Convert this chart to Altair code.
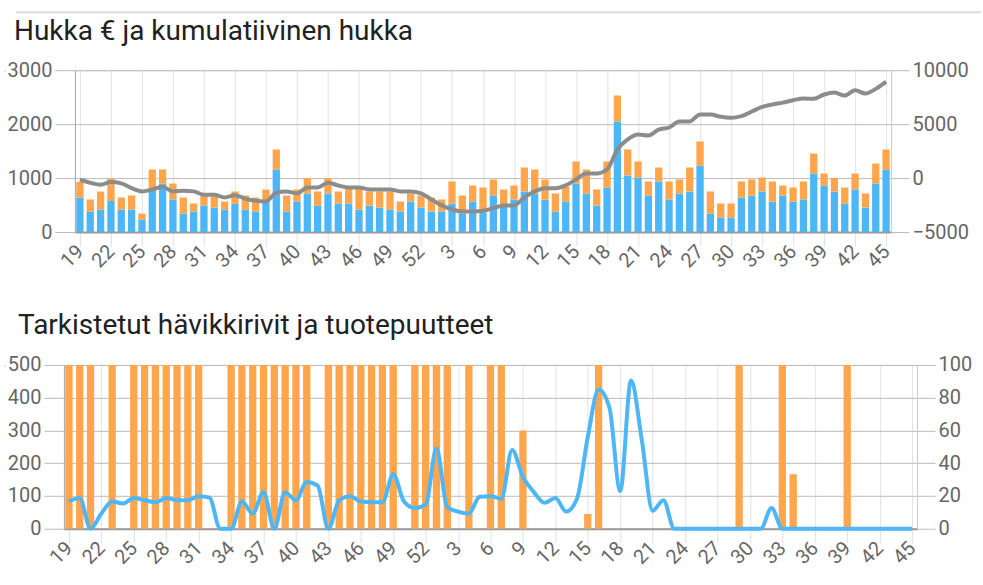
import altair as alt
import pandas as pd

weeks = list(range(19, 53)) + list(range(1, 46))

title_top = "Hukka € ja kumulatiivinen hukka"
title_bottom = "Tarkistetut hävikkirivit ja tuotepuutteet"

hukka_total = [930, 605, 753, 994, 642, 679, 346, 1160, 1160, 901, 642, 531, 679, 660, 568, 753, 679,
               642, 790, 1531, 679, 790, 1000, 753, 1000, 753, 815, 815, 753, 753, 753, 568, 716, 679,
               642, 605, 938, 679, 864, 827, 975, 790, 864, 1198, 1160, 975, 716, 840, 1309, 1160, 790,
               1309, 2531, 1531, 1309, 938, 1198, 938, 975, 1198, 1679, 753, 531, 531, 938, 975, 1012,
               938, 864, 827, 938, 1457, 1086, 1000, 827, 1086, 716, 1272, 1531]
hukka_blue = [642, 383, 420, 574, 420, 420, 235, 770, 901, 605, 346, 383, 494, 457, 420, 531, 420,
              383, 560, 1160, 383, 568, 716, 494, 716, 531, 531, 420, 494, 457, 420, 383, 568, 457,
              383, 383, 531, 346, 568, 358, 679, 463, 605, 753, 716, 605, 383, 568, 901, 716, 494,
              827, 2049, 1049, 1012, 679, 938, 605, 716, 753, 1235, 346, 272, 272, 642, 679, 753,
              568, 679, 568, 605, 1086, 864, 753, 531, 790, 457, 901, 1160]
cumulative = [-150, -430, -620, -370, -490, -930, -1230, -1050, -800, -1230, -1170, -1230, -1540, -1540,
              -1790, -1600, -1910, -2100, -2160, -1360, -1230, -1420, -860, -860, -430, -680, -860, -860,
              -1050, -1050, -1050, -1230, -1230, -1420,
              -1975, -2530, -2900, -3090, -3090, -3025, -2780, -2530, -2530, -1790, -1230, -930, -930,
              -680, -120, 430, 430, 800, 2650, 3580, 4040, 3950, 4500, 4690, 5250, 5250, 5900, 5900,
              5680, 5590, 5740, 6170, 6600, 6820, 7000, 7220, 7380, 7350, 7750, 7930, 7650, 8150, 7840,
              8270, 8950]

puutteet = [500, 500, 500, 0, 500, 0, 500, 500, 500, 500, 500, 500, 500, 0, 0, 500, 500, 500, 500,
            500, 500, 500, 500, 0, 500, 500, 500, 500, 500, 500, 500, 0, 500, 500,
            500, 500, 0, 500, 0, 500, 500, 0, 300, 0, 0, 0, 0, 0, 45, 500, 0, 0, 0, 0, 0, 0, 0, 0,
            0, 0, 0, 0, 500, 0, 0, 0, 500, 166, 0, 0, 0, 0, 500, 0, 0, 0, 0, 0, 0]
rivit = [16.6, 18.7, 0, 9.3, 16.6, 15.4, 18.7, 17.4, 16.2, 18.7, 17.4, 17.4, 19.9, 19, 0, 0, 16.6,
         9.3, 22.3, 0, 22.3, 17.4, 28.6, 26.4, 0, 17.4, 19.9, 16.6, 16.2, 16.2, 33.3, 16.6, 12.6, 14.6,
         49, 13, 10.5, 9.3, 19.5, 19.9, 18.3, 48, 31.6, 22.5, 15.8, 18.7, 10.5, 18.3, 56, 85, 74, 23,
         90.5, 54, 11, 17.4, 0, 0, 0, 0, 0, 0, 0, 0, 0, 12.6, 0, 0, 0, 0, 0, 0, 0, 0, 0, 0, 0, 0, 0]

BLUE = "#4db6f7"
ORANGE = "#ffa64d"
GRAY = "#8c8c8c"
FONT = "Roboto"

n = len(weeks)
df = pd.DataFrame({
    "i": list(range(n)),
    "week": weeks,
    "total": hukka_total,
    "blue": hukka_blue,
    "cum": cumulative,
    "puute": puutteet,
    "rivit": rivit,
})

label_expr = "[" + ",".join(str(w) for w in weeks) + "][datum.value]"


def x_enc():
    return alt.X(
        "i:Q",
        scale=alt.Scale(domain=[0, n - 1], nice=False, zero=False),
        axis=alt.Axis(
            values=list(range(0, n, 3)), labelExpr=label_expr, labelAngle=-45,
            labelAlign="right", labelBaseline="middle", labelFontSize=20, labelColor="#666",
            labelFont=FONT, tickSize=14, tickColor="#e0e0e0", gridColor="#e3e3e3",
            domainColor="#999", domainWidth=2, labelPadding=2, title=None, labelOverlap=False,
        ),
    )


def left_axis(vals):
    return alt.Axis(
        values=vals, format="d", grid=True, gridColor="#bbbbbb", tickColor="#bbbbbb", tickSize=20,
        labelPadding=3, domainColor="#aaa", labelFontSize=20, labelColor="#666",
        labelFont=FONT, title=None,
    )


def right_axis(vals):
    return alt.Axis(
        values=vals, format="d", orient="right", grid=False, tickColor="#bbbbbb", tickSize=18,
        labelPadding=3, domainColor="#ccc", labelFontSize=20, labelColor="#666",
        labelFont=FONT, title=None,
    )


def title_mark(text, xoff, yoff):
    return alt.Chart(pd.DataFrame({"t": [text]})).mark_text(
        align="left", baseline="alphabetic", fontSize=28, font=FONT, color="#212121"
    ).encode(text="t:N", x=alt.value(xoff), y=alt.value(yoff))


def anchor():
    # invisible zero-size cell so that each panel is left-aligned by its outer bounds
    return alt.Chart(pd.DataFrame({"a": [""]})).mark_text(opacity=0, size=1).encode(
        text="a:N", x=alt.value(0), y=alt.value(0)).properties(width=1, height=1)


base = alt.Chart(df)

# ---- top panel ----
W1, H1 = 817, 162
blue_bars = base.mark_bar(size=7.3, color=BLUE, clip=True).encode(
    x=x_enc(),
    y=alt.Y("blue:Q", scale=alt.Scale(domain=[0, 3000], nice=False),
            axis=left_axis([0, 1000, 2000, 3000])),
    y2=alt.datum(0))
orange_bars = base.mark_bar(size=7.3, color=ORANGE, clip=True).encode(
    x=x_enc(),
    y=alt.Y("total:Q", scale=alt.Scale(domain=[0, 3000], nice=False),
            axis=left_axis([0, 1000, 2000, 3000])),
    y2="blue:Q")
cum_line = base.mark_line(color=GRAY, strokeWidth=4, interpolate="monotone").encode(
    x=x_enc(), y=alt.Y("cum:Q", scale=alt.Scale(domain=[-5000, 10000], nice=False),
                       axis=right_axis([-5000, 0, 5000, 10000])))
sep = alt.Chart(pd.DataFrame({"a": [0]})).mark_rule(color="#dddddd", strokeWidth=2).encode(
    x=alt.value(-59), x2=alt.value(907), y=alt.value(-58))

top = alt.layer(
    alt.layer(blue_bars, orange_bars),
    cum_line,
    sep,
    title_mark(title_top, -61, -30),
).resolve_scale(y="independent").properties(width=W1, height=H1)

# ---- bottom panel ----
W2, H2 = 854, 164
p_bars = base.mark_bar(size=7.3, color=ORANGE, clip=True).encode(
    x=x_enc(), y=alt.Y("puute:Q", scale=alt.Scale(domain=[0, 500], nice=False),
                       axis=left_axis([0, 100, 200, 300, 400, 500])))
r_line = base.mark_line(color=BLUE, strokeWidth=4, interpolate="monotone").encode(
    x=x_enc(), y=alt.Y("rivit:Q", scale=alt.Scale(domain=[0, 100], nice=False),
                       axis=right_axis([0, 20, 40, 60, 80, 100])))
bottom = alt.layer(
    p_bars, r_line, title_mark(title_bottom, -46, -31)
).resolve_scale(y="independent").properties(width=W2, height=H2)

chart = alt.vconcat(
    alt.hconcat(anchor(), top, spacing=0),
    alt.hconcat(anchor(), bottom, spacing=0),
    spacing=39,
).properties(
    padding={"left": 3, "top": 10, "right": 0, "bottom": 0}
).configure_view(stroke=None).configure(background="white")

chart.save("out.html", embed_options={"renderer": "svg", "actions": False})
